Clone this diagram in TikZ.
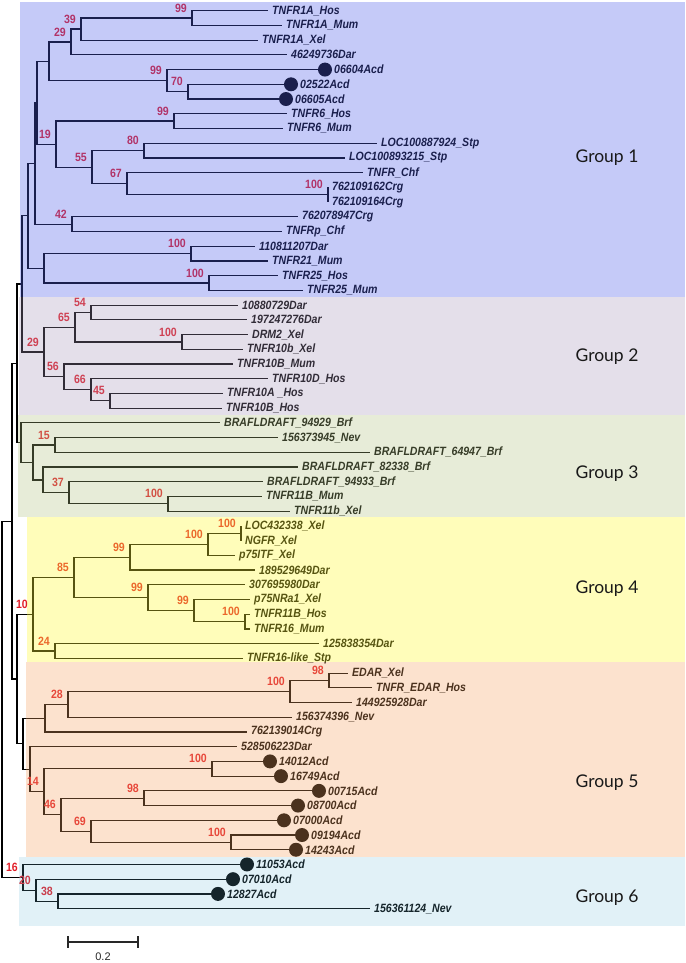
\documentclass[tikz,border=0pt]{standalone}
\usepackage{fontspec}
\setmainfont{Liberation Sans}
\newfontfamily\leaffont[FakeStretch=0.88]{Liberation Sans}
\newfontfamily\grpfont{Lato}
\usetikzlibrary{calc}
\definecolor{bsred}{RGB}{225,30,40}
\definecolor{ovA}{RGB}{80,95,235}
\definecolor{ovB}{RGB}{165,148,185}
\definecolor{ovC}{RGB}{177,194,129}
\definecolor{ovD}{RGB}{255,249,52}
\definecolor{ovE}{RGB}{245,163,98}
\definecolor{ovF}{RGB}{105,185,215}
\definecolor{sbgray}{RGB}{40,40,40}
\begin{document}
\begin{tikzpicture}[x=1pt,y=-1pt,
  br/.style={line width=1.2pt, draw=black},
  leaf/.style={anchor=west, inner sep=0pt, xshift=4pt, font={\leaffont\bfseries\itshape\fontsize{12}{14}\selectfont}},
  dotleaf/.style={anchor=west, inner sep=0pt, xshift=16pt, font={\leaffont\bfseries\itshape\fontsize{12}{14}\selectfont}},
  acddot/.style={circle, fill=black, inner sep=0pt, minimum size=14pt},
  bs/.style={anchor=east, inner sep=0pt, text=bsred, font={\leaffont\bfseries\fontsize{12}{14}\selectfont}},
  grp/.style={inner sep=0pt, font={\grpfont\fontsize{17.5}{20}\selectfont}, text=black!90},
  sc/.style={line width=1.2pt, draw=sbgray}
]
\useasboundingbox (0,0) rectangle (685,963);

% ---------- internal nodes ----------
% group 1
\coordinate (a99) at (192,18.06);
\coordinate (a39) at (81,29.10);
\coordinate (a29) at (71,41.98);
\coordinate (a70) at (188,91.66);
\coordinate (a99b) at (167,80.62);
\coordinate (nA) at (49,61.30);
\coordinate (b99) at (174,121.10);
\coordinate (b80) at (144,150.54);
\coordinate (b100) at (328,194.70);
\coordinate (b67) at (127,183.66);
\coordinate (b55) at (92,167.10);
\coordinate (b19) at (56,144.10);
\coordinate (nAB) at (37,102.70);
\coordinate (c42) at (72,224.14);
\coordinate (nF) at (35,163.42);
\coordinate (d100a) at (191,253.58);
\coordinate (d100b) at (209,283.02);
\coordinate (nD) at (44,268.30);
\coordinate (nG) at (28,215.86);
% group 2
\coordinate (e54) at (91,312.46);
\coordinate (e100) at (182,341.90);
\coordinate (e65) at (75,327.18);
\coordinate (e45) at (110,400.78);
\coordinate (e66) at (91,389.74);
\coordinate (e56) at (64,376.86);
\coordinate (e29) at (44,352.02);
\coordinate (nH) at (22,283.94);
% group 3
\coordinate (f15) at (55,444.94);
\coordinate (f100) at (168,503.82);
\coordinate (f37) at (69,492.78);
\coordinate (f32) at (43,479.90);
\coordinate (f33) at (33,462.42);
\coordinate (fR) at (21,442.64);
\coordinate (nI) at (17,363.29);
% group 4
\coordinate (g100a) at (241,533.26);
\coordinate (g100b) at (208,544.30);
\coordinate (g99a) at (130,557.18);
\coordinate (g100c) at (245,621.58);
\coordinate (g99c) at (194,610.54);
\coordinate (g99b) at (148,597.66);
\coordinate (g85) at (74,577.42);
\coordinate (g24) at (55,651.02);
\coordinate (g10) at (33,614.22);
% group 5
\coordinate (h98) at (329,680.46);
\coordinate (h100) at (290,691.50);
\coordinate (h28) at (68,704.38);
\coordinate (h45) at (45,718.18);
\coordinate (h100b) at (212,768.78);
\coordinate (h98b) at (144,798.22);
\coordinate (h100c) at (231,842.38);
\coordinate (h69) at (91,831.34);
\coordinate (h46) at (61,814.78);
\coordinate (h44) at (44,791.78);
\coordinate (h14) at (30,769.24);
\coordinate (hL) at (23,743.71);
\coordinate (nK) at (17,678.97);
\coordinate (nJ) at (12,521.13);
% group 6
\coordinate (k38) at (58,901.26);
\coordinate (k20) at (36,890.22);
\coordinate (k16) at (23,877.34);
\coordinate (root) at (2,699.24);

% ---------- leaves ----------
\foreach \i/\x/\t in {1/268/TNFR1A\_Hos, 2/282/TNFR1A\_Mum, 3/258/TNFR1A\_Xel, 4/287/46249736Dar,
  8/287/TNFR6\_Hos, 9/283/TNFR6\_Mum, 10/377/LOC100887924\_Stp, 11/345/LOC100893215\_Stp,
  12/363/TNFR\_Chf, 13/328/762109162Crg, 14/328/762109164Crg, 15/298/762078947Crg,
  16/282/TNFRp\_Chf, 17/255/110811207Dar, 18/268/TNFR21\_Mum, 19/278/TNFR25\_Hos, 20/303/TNFR25\_Mum,
  21/238/10880729Dar, 22/247/197247276Dar, 23/248/DRM2\_Xel, 24/243/TNFR10b\_Xel, 25/233/TNFR10B\_Mum,
  26/268/TNFR10D\_Hos, 27/223/TNFR10A \_Hos, 28/222/TNFR10B\_Hos,
  29/220/BRAFLDRAFT\_94929\_Brf, 30/278/156373945\_Nev, 31/370/BRAFLDRAFT\_64947\_Brf,
  32/298/BRAFLDRAFT\_82338\_Brf, 33/263/BRAFLDRAFT\_94933\_Brf, 34/262/TNFR11B\_Mum, 35/290/TNFR11b\_Xel,
  36/241/LOC432338\_Xel, 37/241/NGFR\_Xel, 38/235/p75ITF\_Xel, 39/255/189529649Dar, 40/245/307695980Dar,
  41/250/p75NRa1\_Xel, 42/250/TNFR11B\_Hos, 43/250/TNFR16\_Mum, 44/319/125838354Dar, 45/243/TNFR16-like\_Stp,
  46/348/EDAR\_Xel, 47/372/TNFR\_EDAR\_Hos, 48/352/144925928Dar, 49/292/156374396\_Nev,
  50/247/762139014Crg, 51/237/528506223Dar, 62/370/156361124\_Nev}
{
  \coordinate (L\i) at (\x,{10.7+(\i-1)*14.72});
  \node[leaf] (t\i) at (L\i) {\t};
}
\foreach \i/\x/\t in {5/318/06604Acd, 6/284/02522Acd, 7/279/06605Acd,
  52/263/14012Acd, 53/274/16749Acd, 54/312/00715Acd, 55/291/08700Acd, 56/277/07000Acd,
  57/295/09194Acd, 58/289/14243Acd, 59/240/11053Acd, 60/226/07010Acd, 61/211/12827Acd}
{
  \coordinate (L\i) at (\x,{10.7+(\i-1)*14.72});
  \node[dotleaf] (t\i) at (L\i) {\t};
}

% ---------- branches ----------
\foreach \p/\c in {a99/L1, a99/L2, a39/a99, a39/L3, a29/a39, a29/L4, a70/L6, a70/L7, a99b/L5, a99b/a70, nA/a29, nA/a99b,
  b99/L8, b99/L9, b80/L10, b80/L11, b100/L13, b100/L14, b67/L12, b67/b100, b55/b80, b55/b67, b19/b99, b19/b55,
  nAB/nA, nAB/b19, c42/L15, c42/L16, nF/nAB, nF/c42, d100a/L17, d100a/L18, d100b/L19, d100b/L20,
  nD/d100a, nD/d100b, nG/nF, nG/nD,
  e54/L21, e54/L22, e100/L23, e100/L24, e65/e54, e65/e100, e45/L27, e45/L28, e66/L26, e66/e45,
  e56/L25, e56/e66, e29/e65, e29/e56, nH/nG, nH/e29,
  f15/L30, f15/L31, f100/L34, f100/L35, f37/L33, f37/f100, f32/L32, f32/f37, f33/f15, f33/f32,
  fR/L29, fR/f33, nI/nH, nI/fR,
  g100a/L36, g100a/L37, g100b/g100a, g100b/L38, g99a/g100b, g99a/L39, g100c/L42, g100c/L43,
  g99c/L41, g99c/g100c, g99b/L40, g99b/g99c, g85/g99a, g85/g99b, g24/L44, g24/L45, g10/g85, g10/g24,
  h98/L46, h98/L47, h100/h98, h100/L48, h28/h100, h28/L49, h45/h28, h45/L50, h100b/L52, h100b/L53,
  h98b/L54, h98b/L55, h100c/L57, h100c/L58, h69/L56, h69/h100c, h46/h98b, h46/h69, h44/h100b, h44/h46,
  h14/L51, h14/h44, hL/h45, hL/h14, nK/g10, nK/hL, nJ/nI, nJ/nK,
  k38/L61, k38/L62, k20/L60, k20/k38, k16/L59, k16/k20, root/nJ, root/k16}
{
  \draw[br] (\p) |- (\c);
}

% ---------- Acd dots ----------
\foreach \i in {5,6,7,52,53,54,55,56,57,58,59,60,61}
{
  \node[acddot] (d\i) at ($(L\i)+(7,0)$) {};
}

% ---------- bootstrap values ----------
\foreach \n/\v in {a99/99, a39/39, a29/29, a99b/99, a70/70, b99/99, b19/19, b80/80, b55/55, b67/67, b100/100,
  c42/42, d100a/100, d100b/100,
  e54/54, e65/65, e100/100, e29/29, e56/56, e66/66, e45/45,
  f15/15, f37/37, f100/100,
  g100a/100, g100b/100, g99a/99, g85/85, g99b/99, g99c/99, g100c/100, g10/10, g24/24,
  h98/98, h100/100, h28/28, h100b/100, h44/14, h98b/98, h46/46, h69/69, h100c/100,
  k16/16, k20/20, k38/38}
{
  \node[bs] (bs-\n) at ($(\n)+(-5,-10)$) {\v};
}

% ---------- group overlays ----------
\fill[ovA, fill opacity=0.33] (20,2) rectangle (685,297);
\fill[ovB, fill opacity=0.30] (19,297) rectangle (685,415);
\fill[ovC, fill opacity=0.31] (18,415) rectangle (685,517);
\fill[ovD, fill opacity=0.34] (27,517) rectangle (685,662);
\fill[ovE, fill opacity=0.31] (26,662) rectangle (685,857);
\fill[ovF, fill opacity=0.20] (19,857) rectangle (685,926);

% ---------- group labels ----------
\node[grp] (grp1) at (607,158) {Group 1};
\node[grp] (grp2) at (607,357) {Group 2};
\node[grp] (grp3) at (607,474) {Group 3};
\node[grp] (grp4) at (607,589) {Group 4};
\node[grp] (grp5) at (607,783) {Group 5};
\node[grp] (grp6) at (607,898) {Group 6};

% ---------- scale bar ----------
\coordinate (sb1) at (68,942);
\coordinate (sb2) at (138,942);
\draw[sc] (sb1) -- (sb2);
\draw[sc] ($(sb1)+(0,-6)$) -- ($(sb1)+(0,6)$);
\draw[sc] ($(sb2)+(0,-6)$) -- ($(sb2)+(0,6)$);
\node[inner sep=0pt, text=sbgray, font={\fontsize{11}{13}\selectfont}] (sblab) at (103,957) {0.2};
\end{tikzpicture}
\end{document}
